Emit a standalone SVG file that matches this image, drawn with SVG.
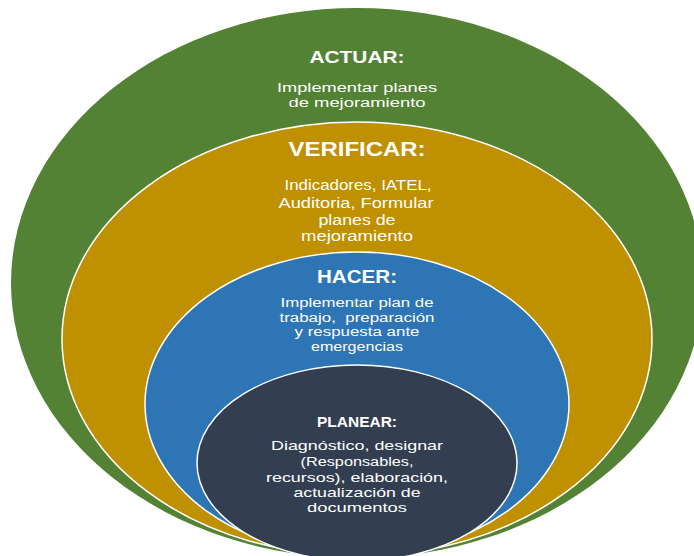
<svg xmlns="http://www.w3.org/2000/svg" width="694" height="556" viewBox="0 0 694 556">
<style>
.ring{stroke:#ffffff;stroke-width:1.5}
text{font-family:"Liberation Sans",Arial,sans-serif;fill:#ffffff;text-anchor:middle}
.h{font-weight:bold}
</style>
<rect width="694" height="556" fill="#ffffff"/>
<g id="actuar">
<ellipse cx="357" cy="283" rx="346" ry="275" fill="#548235"/>
<text class="h" x="357" y="63" font-size="17" textLength="95" lengthAdjust="spacingAndGlyphs">ACTUAR:</text>
<text x="357" y="92" font-size="12.5" textLength="160" lengthAdjust="spacingAndGlyphs">Implementar planes</text>
<text x="357" y="107" font-size="12.5" textLength="137" lengthAdjust="spacingAndGlyphs">de mejoramiento</text>
</g>
<g id="verificar">
<ellipse class="ring" cx="357" cy="339" rx="295" ry="217" fill="#BF9000"/>
<text class="h" x="357" y="156" font-size="20" textLength="137" lengthAdjust="spacingAndGlyphs">VERIFICAR:</text>
<text x="358" y="190" font-size="14" textLength="147" lengthAdjust="spacingAndGlyphs">Indicadores, IATEL,</text>
<text x="356" y="208" font-size="14" textLength="155" lengthAdjust="spacingAndGlyphs">Auditoria, Formular</text>
<text x="357" y="225" font-size="14" textLength="77" lengthAdjust="spacingAndGlyphs">planes de</text>
<text x="357" y="241" font-size="14" textLength="112" lengthAdjust="spacingAndGlyphs">mejoramiento</text>
</g>
<g id="hacer">
<ellipse class="ring" cx="357" cy="404" rx="212" ry="152" fill="#2E75B6"/>
<text class="h" x="357" y="283" font-size="18" textLength="80" lengthAdjust="spacingAndGlyphs">HACER:</text>
<text x="357" y="307" font-size="12.5" textLength="153" lengthAdjust="spacingAndGlyphs">Implementar plan de</text>
<text x="357" y="321.5" font-size="12.5" textLength="155" lengthAdjust="spacingAndGlyphs" xml:space="preserve">trabajo,  preparación</text>
<text x="357" y="336" font-size="12.5" textLength="125" lengthAdjust="spacingAndGlyphs">y respuesta ante</text>
<text x="357" y="350.5" font-size="12.5" textLength="92" lengthAdjust="spacingAndGlyphs">emergencias</text>
</g>
<g id="planear">
<ellipse class="ring" cx="357" cy="463" rx="160" ry="98" fill="#333F50"/>
<text class="h" x="357" y="427" font-size="14" textLength="80" lengthAdjust="spacingAndGlyphs">PLANEAR:</text>
<text x="357" y="450" font-size="13" textLength="172" lengthAdjust="spacingAndGlyphs">Diagnóstico, designar</text>
<text x="357" y="466" font-size="13" textLength="113" lengthAdjust="spacingAndGlyphs">(Responsables,</text>
<text x="357" y="482" font-size="13" textLength="182" lengthAdjust="spacingAndGlyphs">recursos), elaboración,</text>
<text x="357" y="497" font-size="13" textLength="127" lengthAdjust="spacingAndGlyphs">actualización de</text>
<text x="357" y="512" font-size="13" textLength="100" lengthAdjust="spacingAndGlyphs">documentos</text>
</g>
<g id="connectors"/>
</svg>
